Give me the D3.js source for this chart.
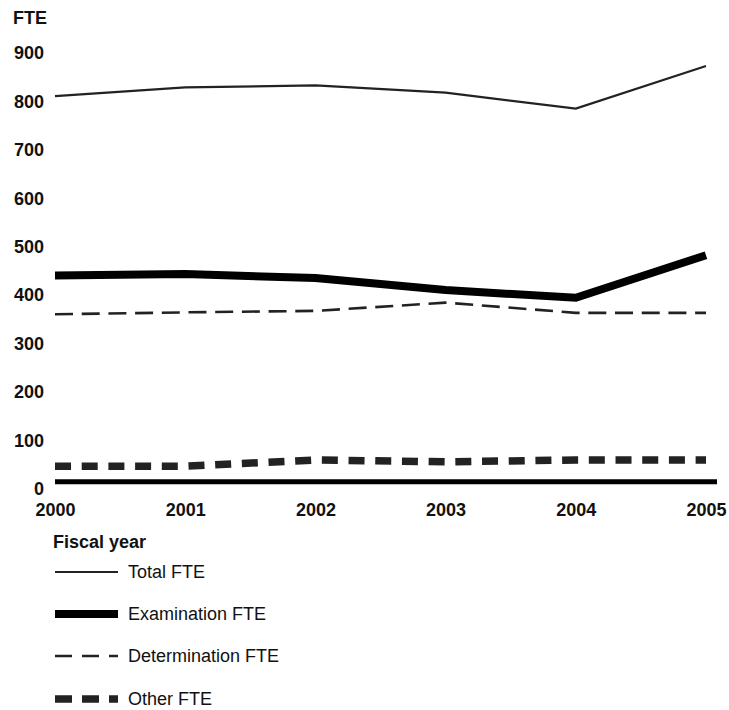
<!DOCTYPE html>
<html>
<head>
<meta charset="utf-8">
<script src="https://cdn.jsdelivr.net/npm/d3@7"></script>
<style>
html,body{margin:0;padding:0;background:#fff;}
text{font-family:"Liberation Sans",Arial,Helvetica,sans-serif;fill:#111;}
</style>
</head>
<body>
<svg id="chart" width="729" height="710"></svg>
<script>
const years = [2000, 2001, 2002, 2003, 2004, 2005];
const totalFTE = [810, 828, 832, 817, 784, 872];
const examinationFTE = [439, 442, 434, 409, 393, 481];
const determinationFTE = [359, 363, 366, 383, 362, 362];
const otherFTE = [45, 45, 58, 54, 58, 58];
const yTicks = [0, 100, 200, 300, 400, 500, 600, 700, 800, 900];
const seriesNames = ["Total FTE", "Examination FTE", "Determination FTE", "Other FTE"];

const styles = [
  {w: 2.2, dash: null, color: "#222"},
  {w: 8, dash: null, color: "#000"},
  {w: 2.6, dash: "18,8.7", color: "#222"},
  {w: 7.5, dash: "16,10.7", color: "#222"}
];
const legendDash = [null, null, "17,10", "17,10"];

const svg = d3.select("#chart");
const x = d3.scaleLinear().domain([2000, 2005]).range([55, 706]);
const y = d3.scaleLinear().domain([0, 900]).range([488, 52.5]);

// y axis labels
const yAxis = d3.axisLeft(y).tickValues(yTicks).tickSize(0).tickPadding(0).tickFormat(d3.format("d"));
const gy = svg.append("g").attr("transform", "translate(44,0)").call(yAxis);
gy.select(".domain").remove();
gy.selectAll("text").attr("font-size", 18).attr("font-weight", "bold")
  .attr("font-family", "Liberation Sans, Arial, sans-serif").attr("fill", "#111").attr("dy", "0.36em");

svg.append("text").attr("x", 13).attr("y", 24).attr("font-size", 18).attr("font-weight", "bold").text("FTE");

// x axis
const xAxis = d3.axisBottom(x).tickValues(years).tickSize(0).tickPadding(0).tickFormat(d3.format("d"));
const gx = svg.append("g").attr("transform", "translate(0,503)").call(xAxis);
gx.select(".domain").remove();
gx.selectAll("text").attr("font-size", 18).attr("font-weight", "bold")
  .attr("font-family", "Liberation Sans, Arial, sans-serif").attr("fill", "#111").attr("dy", "0.71em");

// baseline
svg.append("line").attr("x1", x(2000)).attr("x2", x(2005) + 11)
  .attr("y1", y(0) - 6.3).attr("y2", y(0) - 6.3)
  .attr("stroke", "#000").attr("stroke-width", 5);

const allSeries = [totalFTE, examinationFTE, determinationFTE, otherFTE];
const line = d3.line().x((d, i) => x(years[i])).y(d => y(d));

allSeries.forEach((s, k) => {
  const p = svg.append("path").datum(s).attr("d", line)
    .attr("fill", "none").attr("stroke", styles[k].color)
    .attr("stroke-width", styles[k].w).attr("stroke-linejoin", "miter");
  if (styles[k].dash) p.attr("stroke-dasharray", styles[k].dash);
});

// legend
svg.append("text").attr("x", 53).attr("y", 548).attr("font-size", 18).attr("font-weight", "bold").text("Fiscal year");
const legendY = [572, 614, 656, 699];
seriesNames.forEach((n, k) => {
  const l = svg.append("line").attr("x1", 55).attr("x2", 118)
    .attr("y1", legendY[k]).attr("y2", legendY[k])
    .attr("stroke", styles[k].color).attr("stroke-width", styles[k].w);
  if (legendDash[k]) l.attr("stroke-dasharray", legendDash[k]);
  svg.append("text").attr("x", 128).attr("y", legendY[k]).attr("dy", "0.36em")
    .attr("font-size", 18).text(n);
});
</script>
</body>
</html>
